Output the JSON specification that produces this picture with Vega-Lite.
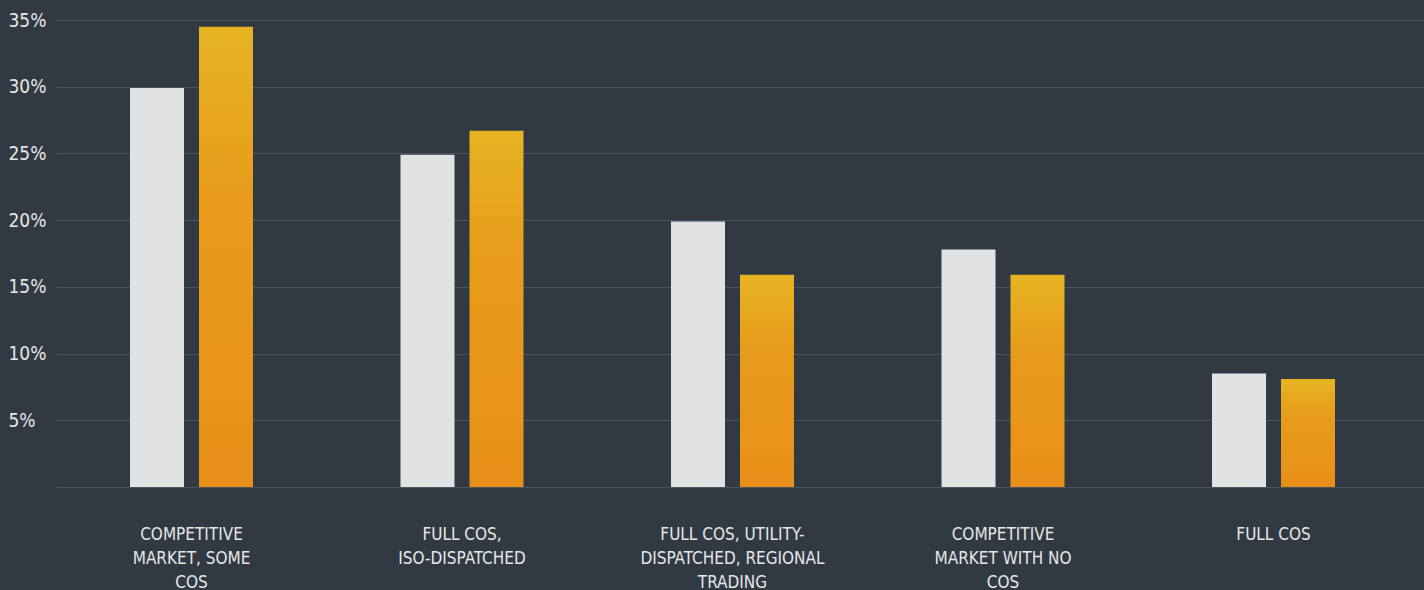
{
  "$schema": "https://vega.github.io/schema/vega-lite/v6.json",
  "autosize": "none",
  "padding": {"left": 56, "top": 20, "right": 0, "bottom": 103},
  "width": 1368,
  "height": 467,
  "background": "#313942",
  "data": {
    "values": [
      {"category": "COMPETITIVE MARKET, SOME COS", "series": "Series 1", "value": 29.9},
      {"category": "COMPETITIVE MARKET, SOME COS", "series": "Series 2", "value": 34.5},
      {"category": "FULL COS, ISO-DISPATCHED", "series": "Series 1", "value": 24.9},
      {"category": "FULL COS, ISO-DISPATCHED", "series": "Series 2", "value": 26.7},
      {"category": "FULL COS, UTILITY-DISPATCHED, REGIONAL TRADING", "series": "Series 1", "value": 19.9},
      {"category": "FULL COS, UTILITY-DISPATCHED, REGIONAL TRADING", "series": "Series 2", "value": 15.9},
      {"category": "COMPETITIVE MARKET WITH NO COS", "series": "Series 1", "value": 17.8},
      {"category": "COMPETITIVE MARKET WITH NO COS", "series": "Series 2", "value": 15.9},
      {"category": "FULL COS", "series": "Series 1", "value": 8.5},
      {"category": "FULL COS", "series": "Series 2", "value": 8.1}
    ]
  },
  "config": {
    "view": {"stroke": null},
    "font": "DejaVu Sans Condensed, DejaVu Sans, sans-serif"
  },
  "mark": {"type": "bar"},
  "encoding": {
    "x": {
      "field": "category",
      "type": "nominal",
      "sort": null,
      "scale": {"paddingInner": 0.5453, "paddingOuter": 0.3013, "align": 0.454},
      "axis": {
        "title": null,
        "domain": false,
        "ticks": false,
        "labelAngle": 0,
        "labelColor": "#e6e7e9",
        "labelFont": "DejaVu Sans Condensed, DejaVu Sans, sans-serif",
        "labelFontSize": 17,
        "labelLineHeight": 24,
        "labelPadding": 39,
        "labelBaseline": "top",
        "labelLimit": 300,
        "labelExpr": "({'COMPETITIVE MARKET, SOME COS': ['COMPETITIVE', 'MARKET, SOME', 'COS'], 'FULL COS, ISO-DISPATCHED': ['FULL COS,', 'ISO-DISPATCHED'], 'FULL COS, UTILITY-DISPATCHED, REGIONAL TRADING': ['FULL COS, UTILITY-', 'DISPATCHED, REGIONAL', 'TRADING'], 'COMPETITIVE MARKET WITH NO COS': ['COMPETITIVE', 'MARKET WITH NO', 'COS'], 'FULL COS': ['FULL COS']})[datum.value]"
      }
    },
    "xOffset": {
      "field": "series",
      "type": "nominal",
      "scale": {"paddingInner": 0.2174, "paddingOuter": 0}
    },
    "y": {
      "field": "value",
      "type": "quantitative",
      "scale": {"domain": [0, 35], "nice": false},
      "axis": {
        "title": null,
        "values": [0, 5, 10, 15, 20, 25, 30, 35],
        "domain": false,
        "ticks": false,
        "tickSize": 0,
        "grid": true,
        "gridColor": "#4b555f",
        "gridWidth": 1.2,
        "labelAlign": "left",
        "labelPadding": 48,
        "labelColor": "#e6e7e9",
        "labelFont": "DejaVu Sans Condensed, DejaVu Sans, sans-serif",
        "labelFontSize": 19,
        "labelExpr": "datum.value === 0 ? '' : datum.value + '%'"
      }
    },
    "color": {
      "condition": {"test": "datum.series === 'Series 1'", "value": "#e1e2e4"},
      "value": {
        "gradient": "linear",
        "x1": 0, "y1": 0, "x2": 0, "y2": 1,
        "stops": [
          {"offset": 0, "color": "#e6b423"},
          {"offset": 0.35, "color": "#e89c1b"},
          {"offset": 1, "color": "#e88f19"}
        ]
      }
    }
  }
}
